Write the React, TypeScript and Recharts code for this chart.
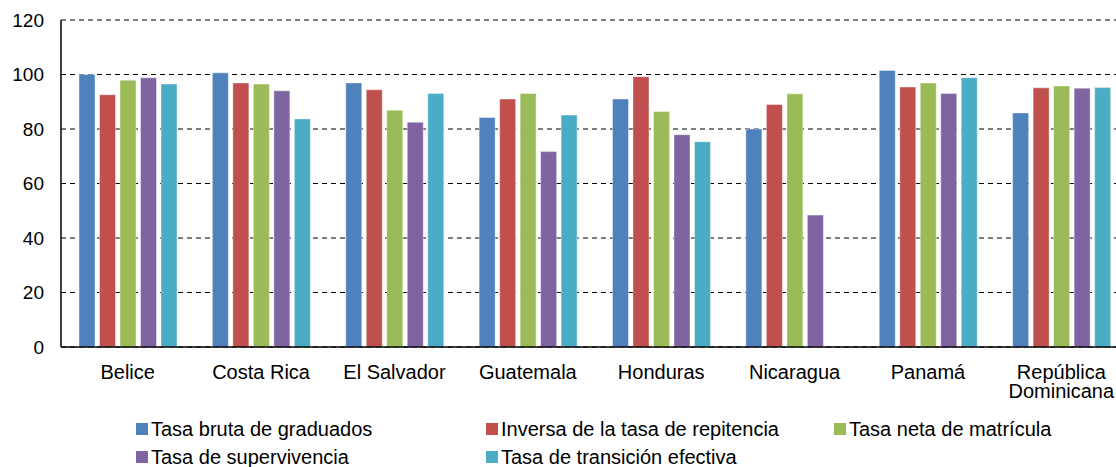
import { BarChart, Bar, XAxis, YAxis, CartesianGrid } from 'recharts';

const categories = ['Belice', 'Costa Rica', 'El Salvador', 'Guatemala', 'Honduras', 'Nicaragua', 'Panamá', 'República Dominicana'];
const xLabels = ['Belice', 'Costa Rica', 'El Salvador', 'Guatemala', 'Honduras', 'Nicaragua', 'Panamá', 'República\nDominicana'];

const brutaGraduados = [100, 100.6, 96.9, 84.2, 91.0, 80.0, 101.5, 85.9];
const inversaRepitencia = [92.6, 96.9, 94.4, 91.0, 99.2, 89.0, 95.4, 95.1];
const netaMatricula = [97.9, 96.5, 86.9, 93.0, 86.4, 92.9, 96.9, 95.8];
const supervivencia = [98.8, 94.0, 82.5, 71.7, 77.9, 48.4, 93.0, 95.0];
const transicion = [96.5, 83.7, 93.0, 85.1, 75.3, null, 98.8, 95.2];

const yTicks = [0, 20, 40, 60, 80, 100, 120];

const series = [
    { key: 'bruta', name: 'Tasa bruta de graduados', color: '#4F81BD', values: brutaGraduados },
    { key: 'inversa', name: 'Inversa de la tasa de repitencia', color: '#C0504D', values: inversaRepitencia },
    { key: 'neta', name: 'Tasa neta de matrícula', color: '#9BBB59', values: netaMatricula },
    { key: 'superv', name: 'Tasa de supervivencia', color: '#8064A2', values: supervivencia },
    { key: 'trans', name: 'Tasa de transición efectiva', color: '#4BACC6', values: transicion },
];

const data = categories.map((c, i) => {
    const row: Record<string, string | number | null> = { category: c };
    series.forEach(s => { row[s.key] = s.values[i]; });
    return row;
});

// posiciones de la leyenda (dos filas, tres columnas)
const legendPos = [
    { left: 136, top: 419 },
    { left: 486, top: 419 },
    { left: 834, top: 419 },
    { left: 136, top: 447 },
    { left: 486, top: 447 },
];

const FONT = '"Liberation Sans", Arial, sans-serif';

function XTick(props: any) {
    const { x, y, index } = props;
    const lines = String(xLabels[index] ?? '').split('\n');
    return (
        <text x={x} y={y} textAnchor="middle" fill="#000" fontSize={20} fontFamily={FONT}>
            {lines.map((l, i) => (
                <tspan key={i} x={x} dy={i === 0 ? 24 : 19}>{l}</tspan>
            ))}
        </text>
    );
}

export default function App() {
    return (
        <div style={{ position: 'fixed', left: 0, top: 0, width: 1116, height: 467, overflow: 'hidden', background: '#fff', fontFamily: FONT }}>
            <BarChart
                width={1128}
                height={467}
                data={data}
                margin={{ top: 20, right: 0, left: 11, bottom: 0 }}
                barSize={16}
                barGap={4.5}
            >
                <CartesianGrid vertical={false} stroke="#000" strokeWidth={1.2} strokeDasharray="5 4" />
                <XAxis
                    dataKey="category"
                    axisLine={{ stroke: '#000', strokeWidth: 1.5 }}
                    tickLine={false}
                    height={120}
                    interval={0}
                    tick={<XTick />}
                />
                <YAxis
                    domain={[0, 120]}
                    ticks={yTicks}
                    width={50}
                    axisLine={{ stroke: '#000', strokeWidth: 1.5 }}
                    tickLine={false}
                    tickMargin={11}
                    tick={{ fill: '#000', fontSize: 19, fontFamily: FONT }}
                />
                {series.map(s => (
                    <Bar key={s.key} dataKey={s.key} name={s.name} fill={s.color} stroke="#fff" strokeOpacity={0.4} isAnimationActive={false} />
                ))}
            </BarChart>
            {series.map((s, i) => (
                <div
                    key={s.key}
                    style={{
                        position: 'absolute',
                        left: legendPos[i].left,
                        top: legendPos[i].top,
                        height: 20,
                        display: 'flex',
                        alignItems: 'center',
                        fontSize: 20,
                        lineHeight: '20px',
                        color: '#000',
                        whiteSpace: 'nowrap',
                    }}
                >
                    <span style={{ display: 'inline-block', width: 12, height: 12, background: s.color, marginRight: 3 }} />
                    <span>{s.name}</span>
                </div>
            ))}
        </div>
    );
}
